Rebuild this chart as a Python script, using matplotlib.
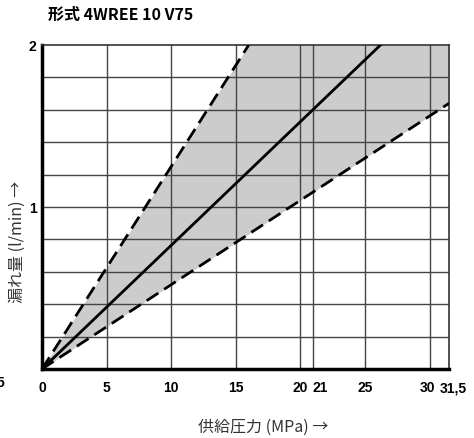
import numpy as np
import matplotlib
matplotlib.use("Agg")
from matplotlib import pyplot as plt
from matplotlib.transforms import ScaledTranslation

plt.rcParams['font.family'] = ['Noto Sans CJK JP', 'DejaVu Sans']

# pressure (MPa) and leakage (l/min)
upper_p = [0, 16.0]
upper_q = [0, 2.0]
mid_p = [0, 26.2]
mid_q = [0, 2.0]
lower_p = [0, 31.5]
lower_q = [0, 1.64]

x_ticks = [0, 5, 10, 15, 20, 21, 25, 30, 31.5]
x_labels = ['0', '5', '10', '15', '20', '21', '25', '30', '31,5']
grid_x = [5, 10, 15, 20, 21, 25, 30]
grid_y = [0.2, 0.4, 0.6, 0.8, 1.0, 1.2, 1.4, 1.6, 1.8]

tick_font = 'Liberation Sans'

fig = plt.figure(figsize=(4.74, 4.39), dpi=100)
ax = fig.add_axes([42/474, 69/439, 407/474, 324/439])

# shaded band between the two dashed limits
xs = np.array([0, upper_p[1], lower_p[1]])
top = np.where(xs > upper_p[1], 2.0, np.interp(xs, upper_p, upper_q))
bot = np.interp(xs, lower_p, lower_q)
ax.fill_between(xs, bot, top, color='#cccccc', lw=0, zorder=1)

for gx in grid_x:
    ax.axvline(gx, color='#444444', lw=1, zorder=2)
for gy in grid_y:
    ax.axhline(gy, color='#444444', lw=1, zorder=2)

ax.plot(upper_p, upper_q, color='black', lw=2, ls=(0, (5, 2.5)), zorder=3)
ax.plot(mid_p, mid_q, color='black', lw=2, zorder=3)
ax.plot(lower_p, lower_q, color='black', lw=2, ls=(0, (5, 2.5)), zorder=3)

ax.set_xlim(0, 31.5)
ax.set_ylim(0, 2)
ax.set_xticks(x_ticks)
ax.set_xticklabels(x_labels)
ax.set_yticks([1, 2])
ax.set_yticklabels(['1', '2'])
ax.tick_params(length=0, pad=8)
ax.tick_params(axis='y', pad=4)
for lab in ax.get_xticklabels() + ax.get_yticklabels():
    lab.set_fontfamily(tick_font)
    lab.set_fontweight('bold')
    lab.set_fontsize(10)


def nudge(lab, px):
    lab.set_transform(lab.get_transform() + ScaledTranslation(px/100, 0, fig.dpi_scale_trans))


xl = ax.get_xticklabels()
xl[5].set_ha('left')
nudge(xl[5], -1)
nudge(xl[7], -2)
nudge(xl[8], 4)

for side in ['left', 'bottom']:
    ax.spines[side].set_linewidth(2.5)
for side in ['top', 'right']:
    ax.spines[side].set_linewidth(1.2)
    ax.spines[side].set_color('#333333')

# stray clipped label at the far left
ax.text(-3.2, -0.08, '5', ha='center', va='center', fontsize=10,
        fontweight='bold', family=tick_font, clip_on=False)

fig.text(48/474, 1 - 15/439, '形式 4WREE 10 V75', fontsize=11.5,
         fontweight='bold', ha='left', va='center')
fig.text(17/474, 1 - 242/439, '漏れ量 (l/min) →', rotation=90,
         fontsize=11.5, color='#333333', ha='center', va='center')
fig.text(263/474, 1 - 427/439, '供給圧力 (MPa) →', fontsize=11.5,
         color='#333333', ha='center', va='center')

fig.savefig('out.png', dpi=100)
